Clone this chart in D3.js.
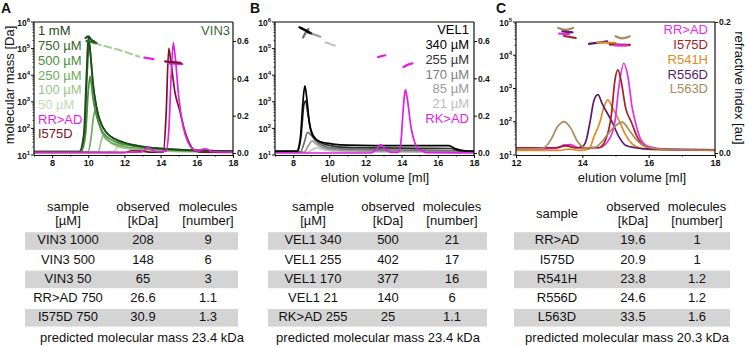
<!DOCTYPE html>
<html>
<head>
<meta charset="utf-8">
<script src="https://cdn.jsdelivr.net/npm/d3@7"></script>
<style>
body { margin: 0; background: #fff; }
svg { font-family: "Liberation Sans", Arial, sans-serif; }
</style>
</head>
<body>
<div id="fig"></div>
<script>
// ---------- A: VIN3 concentration series (RI traces, [ml, RI]) ----------
var vin3_1000 = [[7,0.008],[9.5,0.008],[9.75,0.1],[9.9,0.42],[10.0,0.62],[10.1,0.55],[10.25,0.38],[10.45,0.25],[10.7,0.16],[11.0,0.11],[11.5,0.075],[12.2,0.05],[13,0.035],[14,0.025],[15,0.018],[16.5,0.013],[18,0.01]];
var vin3_750 = [[7,0.008],[9.55,0.008],[9.8,0.12],[9.95,0.45],[10.05,0.6],[10.15,0.5],[10.3,0.34],[10.5,0.22],[10.8,0.14],[11.2,0.09],[11.8,0.06],[12.5,0.042],[13.5,0.028],[15,0.018],[18,0.01]];
var vin3_500 = [[7,0.006],[9.6,0.006],[9.85,0.1],[10.0,0.33],[10.1,0.41],[10.25,0.3],[10.45,0.2],[10.7,0.13],[11.0,0.09],[11.5,0.06],[12.3,0.04],[13.5,0.025],[15,0.015],[18,0.008]];
var vin3_250 = [[7,0.006],[10.0,0.006],[10.15,0.08],[10.3,0.2],[10.4,0.23],[10.55,0.17],[10.8,0.1],[11.2,0.06],[12,0.035],[13.5,0.02],[15,0.012],[18,0.007]];
var vin3_100 = [[7,0.005],[10.55,0.005],[10.7,0.06],[10.85,0.1],[11.0,0.08],[11.3,0.05],[11.8,0.03],[12.8,0.018],[14.5,0.01],[18,0.006]];
var vin3_50 = [[7,0.005],[11.4,0.005],[11.6,0.03],[11.8,0.045],[12.0,0.035],[12.4,0.02],[13.2,0.012],[15,0.007],[18,0.005]];
var vin3_rrad = [[7,0.004],[12.8,0.004],[13.1,0.015],[13.3,0.03],[13.55,0.015],[13.9,0.006],[14.3,0.01],[14.45,0.12],[14.6,0.45],[14.7,0.59],[14.8,0.52],[15.0,0.3],[15.25,0.14],[15.5,0.06],[15.8,0.02],[16.1,0.01],[16.4,0.022],[16.6,0.02],[16.8,0.008],[18,0.004]];
var vin3_i575d = [[7,0.002],[12.0,0.002],[12.4,0.012],[12.9,0.01],[13.5,0.004],[14.15,0.005],[14.3,0.2],[14.45,0.56],[14.55,0.5],[14.8,0.32],[15.05,0.23],[15.3,0.13],[15.6,0.05],[15.9,0.012],[16.3,0.004],[18,0.003]];

// molar mass across the peaks, [ml, Da]
var vin3_mass_1000 = [[9.85,2.5e5],[10.0,2.9e5],[10.15,2.2e5],[10.35,1.8e5]];
var vin3_mass_750 = [[9.9,1.9e5],[10.15,1.8e5],[10.45,1.65e5]];
var vin3_mass_50 = [[10.3,1.6e5],[11.0,1.2e5],[11.8,8.5e4],[12.3,6.5e4],[12.8,5.0e4]];
var vin3_mass_rrad1 = [[13.1,4.6e4],[13.35,4.3e4],[13.6,4.0e4]];
var vin3_mass_i575d = [[14.25,3.3e4],[14.65,3.1e4],[15.1,2.9e4]];
var vin3_mass_rrad2 = [[14.4,2.8e4],[14.8,2.7e4],[15.2,2.6e4]];

// ---------- B: VEL1 concentration series ----------
var vel1_340 = [[7,0.01],[8.2,0.01],[8.4,0.08],[8.55,0.28],[8.65,0.36],[8.75,0.3],[8.9,0.16],[9.1,0.09],[9.5,0.06],[10.2,0.048],[11,0.042],[12.5,0.04],[14,0.04],[15.5,0.04],[16.6,0.04],[17.0,0.022],[17.5,0.012],[18,0.01]];
var vel1_255 = [[7,0.008],[8.25,0.008],[8.45,0.1],[8.6,0.26],[8.7,0.28],[8.8,0.22],[9.0,0.12],[9.3,0.07],[9.8,0.045],[11,0.03],[13,0.027],[15,0.025],[16.7,0.024],[17.2,0.012],[18,0.008]];
var vel1_170 = [[7,0.006],[8.4,0.006],[8.6,0.05],[8.8,0.11],[8.95,0.1],[9.2,0.07],[9.6,0.04],[10.3,0.025],[12,0.018],[15,0.015],[17,0.012],[18,0.006]];
var vel1_85 = [[7,0.005],[8.6,0.005],[8.85,0.04],[9.05,0.065],[9.25,0.05],[9.6,0.03],[10.4,0.016],[12,0.01],[18,0.006]];
var vel1_21 = [[7,0.004],[8.8,0.004],[9.1,0.02],[9.35,0.028],[9.6,0.02],[10.2,0.01],[12,0.006],[18,0.004]];
var vel1_rkad = [[7,0.0],[12.3,0.0],[12.6,0.02],[12.85,0.045],[13.1,0.02],[13.4,0.003],[13.8,0.003],[13.95,0.05],[14.1,0.25],[14.2,0.34],[14.3,0.3],[14.5,0.15],[14.75,0.05],[15.0,0.015],[15.2,0.01],[15.3,0.002],[18,0.0]];

var vel1_mass_340 = [[8.35,6.3e5],[8.6,5.2e5],[8.9,4.0e5]];
var vel1_mass_255 = [[8.45,5.8e5],[8.7,4.8e5],[9.0,3.8e5]];
var vel1_mass_170 = [[8.55,2.6e5],[8.7,4.0e5],[8.85,5.5e5]];
var vel1_mass_85 = [[8.8,4.0e5],[9.2,3.3e5],[9.5,2.8e5]];
var vel1_mass_21 = [[9.8,1.7e5],[10.05,1.5e5],[10.3,1.3e5]];
var vel1_mass_rkad1 = [[12.7,4.8e4],[12.9,5.2e4],[13.1,5.6e4]];
var vel1_mass_rkad2 = [[14.1,2.0e4],[14.35,2.5e4],[14.6,2.8e4]];

// ---------- C: VIN3 point mutants ----------
var mut_rrad = [[12,0.006],[13.2,0.007],[13.45,0.012],[13.65,0.013],[13.9,0.008],[14.5,0.008],[14.8,0.02],[14.98,0.047],[15.1,0.1],[15.25,0.137],[15.38,0.115],[15.5,0.07],[15.6,0.047],[15.75,0.022],[16.0,0.01],[16.5,0.006],[18,0.005]];
var mut_i575d = [[12,0.008],[13.2,0.008],[13.5,0.011],[13.8,0.008],[14.5,0.008],[14.7,0.02],[14.88,0.06],[14.98,0.11],[15.07,0.127],[15.17,0.11],[15.3,0.07],[15.48,0.047],[15.65,0.025],[15.9,0.01],[16.3,0.006],[18,0.005]];
var mut_r541h = [[12,0.004],[13.3,0.004],[13.6,0.006],[13.9,0.004],[14.2,0.006],[14.35,0.025],[14.53,0.047],[14.65,0.07],[14.77,0.081],[14.9,0.07],[15.13,0.047],[15.3,0.028],[15.5,0.014],[15.8,0.007],[16.3,0.005],[18,0.004]];
var mut_r556d = [[12,0.008],[13.2,0.008],[13.5,0.012],[13.8,0.008],[14.0,0.01],[14.12,0.02],[14.23,0.047],[14.35,0.08],[14.47,0.089],[14.6,0.075],[14.9,0.047],[15.1,0.025],[15.3,0.012],[15.6,0.008],[16,0.006],[18,0.005]];
var mut_l563d = [[12,0.006],[12.8,0.007],[13.05,0.02],[13.25,0.04],[13.45,0.048],[13.65,0.038],[13.85,0.018],[14.1,0.008],[14.4,0.009],[14.6,0.018],[14.85,0.034],[15.1,0.045],[15.2,0.047],[15.4,0.036],[15.6,0.022],[15.9,0.01],[16.4,0.006],[17,0.005],[18,0.004]];

var mut_mass_l563d_1 = [[13.27,6.6e4],[13.5,5.8e4],[13.72,6.6e4]];
var mut_mass_r556d_1 = [[13.4,5.2e4],[13.7,4.9e4]];
var mut_mass_rrad_1 = [[13.3,4.5e4],[13.6,4.3e4]];
var mut_mass_i575d_1 = [[13.45,3.8e4],[13.8,3.3e4]];
var mut_mass_r556d_2 = [[14.2,2.2e4],[14.5,2.4e4],[14.75,2.6e4]];
var mut_mass_r541h_2 = [[14.45,2.4e4],[14.7,2.38e4],[15.0,2.35e4]];
var mut_mass_l563d_2 = [[15.0,3.7e4],[15.2,3.2e4],[15.43,3.7e4]];
var mut_mass_i575d_2 = [[14.83,2.1e4],[15.1,2.1e4],[15.43,2.05e4]];
var mut_mass_rrad_2 = [[14.98,1.97e4],[15.15,1.95e4],[15.35,1.95e4]];

// ---------- tables ----------
var tableA_head = [["sample", "[µM]"], ["observed", "[kDa]"], ["molecules", "[number]"]];
var tableA_rows = [["VIN3 1000", "208", "9"], ["VIN3 500", "148", "6"], ["VIN3 50", "65", "3"], ["RR>AD 750", "26.6", "1.1"], ["I575D 750", "30.9", "1.3"]];
var tableA_note = "predicted molecular mass 23.4 kDa";
var tableB_head = [["sample", "[µM]"], ["observed", "[kDa]"], ["molecules", "[number]"]];
var tableB_rows = [["VEL1 340", "500", "21"], ["VEL1 255", "402", "17"], ["VEL1 170", "377", "16"], ["VEL1 21", "140", "6"], ["RK>AD 255", "25", "1.1"]];
var tableB_note = "predicted molecular mass 23.4 kDa";
var tableC_head = [["sample"], ["observed", "[kDa]"], ["molecules", "[number]"]];
var tableC_rows = [["RR>AD", "19.6", "1"], ["I575D", "20.9", "1"], ["R541H", "23.8", "1.2"], ["R556D", "24.6", "1.2"], ["L563D", "33.5", "1.6"]];
var tableC_note = "predicted molecular mass 20.3 kDa";

// colours
var gA = ["#1d4a1a", "#2f6a29", "#4b8e3c", "#6dab5c", "#97c788", "#bfdbb3"];
var magenta = "#e21fe6", wine = "#7a1526";
var grays = ["#000000", "#2b2b2b", "#6e6e6e", "#9a9a9a", "#c4c4c4"];
var cRR = "#e42ee8", cI = "#a3221f", cR541 = "#e28a28", cR556 = "#5b1a6c", cL563 = "#a98a5b";

var W = 749, H = 346;
var PT = 22, PB = 155, RI0 = 153;

var svg = d3.select("#fig").append("svg").attr("width", W).attr("height", H);

function drawPanel(cfg) {
  var x = d3.scaleLinear().domain(cfg.xDomain).range([cfg.x0, cfg.x1]);
  var yM = d3.scaleLog().domain(cfg.mDomain).range([PB, PT]);
  var yR = d3.scaleLinear().domain([0, cfg.riTop]).range([RI0, cfg.riTopY]);
  var g = svg.append("g");

  var cid = "clip" + cfg.id;
  svg.append("clipPath").attr("id", cid).append("rect")
    .attr("x", cfg.x0).attr("y", PT).attr("width", cfg.x1 - cfg.x0).attr("height", PB - PT);
  var plot = g.append("g").attr("clip-path", "url(#" + cid + ")");

  var riLine = d3.line().x(d => x(d[0])).y(d => yR(d[1])).curve(d3.curveMonotoneX);
  plot.selectAll("path.ri").data(cfg.traces).enter().append("path")
    .attr("class", "ri")
    .attr("d", d => riLine(d.data))
    .attr("fill", "none")
    .attr("stroke", d => d.color)
    .attr("stroke-width", 1.7)
    .attr("stroke-linejoin", "round");

  var massLine = d3.line().x(d => x(d[0])).y(d => yM(d[1])).curve(d3.curveCatmullRom);
  plot.selectAll("path.mass").data(cfg.mass).enter().append("path")
    .attr("class", "mass")
    .attr("d", d => massLine(d.data))
    .attr("fill", "none")
    .attr("stroke", d => d.color)
    .attr("stroke-width", 2.2)
    .attr("stroke-linecap", "round")
    .attr("stroke-dasharray", d => d.dash || null);

  // frame
  g.append("line").attr("x1", cfg.x0).attr("x2", cfg.x1).attr("y1", PT).attr("y2", PT)
    .attr("stroke", "#555").attr("stroke-width", 1.5);
  g.append("line").attr("x1", cfg.x0).attr("x2", cfg.x0).attr("y1", PT).attr("y2", PB)
    .attr("stroke", "#111").attr("stroke-width", 1.2);
  g.append("line").attr("x1", cfg.x1).attr("x2", cfg.x1).attr("y1", PT).attr("y2", PB)
    .attr("stroke", "#111").attr("stroke-width", 1.2);

  // bottom axis
  var ax = g.append("g").attr("transform", "translate(0," + PB + ")")
    .call(d3.axisBottom(x).tickValues(cfg.xTicks).tickSize(3).tickSizeOuter(0).tickFormat(d3.format("d")));
  ax.select(".domain").attr("stroke", "#111").attr("stroke-width", 1.2);
  ax.selectAll("text").attr("font-size", 9).attr("font-weight", "bold").attr("fill", "#111").attr("dy", "0.6em");
  g.append("g").attr("transform", "translate(0," + PB + ")")
    .call(d3.axisBottom(x).tickValues(cfg.xMinor).tickSize(1.5).tickFormat(""))
    .select(".domain").remove();

  // left log axis: decades with superscript labels, minor ticks in between
  var decades = yM.ticks().filter(v => Math.abs(Math.log10(v) - Math.round(Math.log10(v))) < 1e-9);
  var minors = yM.ticks().filter(v => decades.indexOf(v) < 0);
  g.selectAll("line.minor").data(minors).enter().append("line")
    .attr("x1", cfg.x0 - 1.5).attr("x2", cfg.x0).attr("y1", d => yM(d)).attr("y2", d => yM(d))
    .attr("stroke", "#111").attr("stroke-width", 0.8);
  g.selectAll("line.major").data(decades).enter().append("line")
    .attr("x1", cfg.x0 - 3).attr("x2", cfg.x0).attr("y1", d => yM(d)).attr("y2", d => yM(d))
    .attr("stroke", "#111").attr("stroke-width", 1);
  var lab = g.selectAll("text.dec").data(decades).enter().append("text")
    .attr("x", cfg.x0 - 4).attr("y", d => yM(d) + 3.5)
    .attr("text-anchor", "end").attr("font-weight", "bold").attr("fill", "#111");
  lab.append("tspan").attr("font-size", 8.5).text("10");
  lab.append("tspan").attr("font-size", 6).attr("dy", -4).text(d => Math.round(Math.log10(d)));

  // right RI axis
  var ar = g.append("g").attr("transform", "translate(" + cfg.x1 + ",0)")
    .call(d3.axisRight(yR).tickValues(cfg.riTicks).tickSize(3).tickSizeOuter(0).tickFormat(d3.format(".1f")));
  ar.select(".domain").remove();
  ar.selectAll("line").attr("stroke", "#111");
  ar.selectAll("text").attr("font-size", 8.5).attr("font-weight", "bold").attr("fill", "#111").attr("x", 4);

  // legend
  g.selectAll("text.leg").data(cfg.legend).enter().append("text")
    .attr("x", cfg.legendX).attr("y", (d, i) => cfg.legendY + i * 14.7)
    .attr("text-anchor", cfg.legendAnchor).attr("dominant-baseline", "middle")
    .attr("font-size", 13).attr("fill", d => d.color).text(d => d.label);

  // panel letter
  g.append("text").attr("x", cfg.letterX).attr("y", 13).attr("font-size", 14)
    .attr("font-weight", "bold").attr("fill", "#111").text(cfg.letter);

  return { x: x };
}

function drawTable(t) {
  var g = svg.append("g").attr("font-size", 13).attr("fill", "#111");
  var rowY0 = 241, rowH = 19.2;
  g.selectAll("rect.band").data(t.rows.filter((r, i) => i % 2 === 0)).enter().append("rect")
    .attr("x", t.left).attr("width", t.right - t.left)
    .attr("y", (d, i) => rowY0 + i * 2 * rowH - 8.8).attr("height", 17.6)
    .attr("fill", "#d4d4d4");
  t.head.forEach(function (h, c) {
    h.forEach(function (s, k) {
      var y = h.length === 1 ? 215 : 208 + k * 14;
      g.append("text").attr("x", t.cols[c]).attr("y", y).attr("text-anchor", "middle")
        .attr("dominant-baseline", "middle").text(s);
    });
  });
  t.rows.forEach(function (r, i) {
    r.forEach(function (s, c) {
      g.append("text").attr("x", t.cols[c]).attr("y", rowY0 + i * rowH)
        .attr("text-anchor", "middle").attr("dominant-baseline", "middle").text(s);
    });
  });
  g.append("text").attr("x", t.noteX).attr("y", 339).attr("text-anchor", "middle")
    .attr("dominant-baseline", "middle").text(t.note);
}

// ---- A ----
drawPanel({
  id: "A", letter: "A", letterX: 1,
  xDomain: [7, 18], x0: 34, x1: 233, xTicks: [8, 10, 12, 14, 16, 18], xMinor: [7, 9, 11, 13, 15, 17],
  mDomain: [10, 1e6], riTop: 0.6, riTopY: 41, riTicks: [0, 0.2, 0.4, 0.6],
  traces: [
    { color: gA[5], data: vin3_50 }, { color: gA[4], data: vin3_100 }, { color: gA[3], data: vin3_250 },
    { color: gA[2], data: vin3_500 }, { color: gA[1], data: vin3_750 }, { color: gA[0], data: vin3_1000 },
    { color: wine, data: vin3_i575d }, { color: magenta, data: vin3_rrad }
  ],
  mass: [
    { color: "#a9cf9c", data: vin3_mass_50, dash: "7,4" },
    { color: gA[1], data: vin3_mass_750 }, { color: gA[0], data: vin3_mass_1000 },
    { color: magenta, data: vin3_mass_rrad1 }, { color: magenta, data: vin3_mass_rrad2 },
    { color: wine, data: vin3_mass_i575d }
  ],
  legend: [
    { label: "1 mM", color: gA[0] }, { label: "750 µM", color: gA[1] }, { label: "500 µM", color: gA[2] },
    { label: "250 µM", color: gA[3] }, { label: "100 µM", color: gA[4] }, { label: "50 µM", color: gA[5] },
    { label: "RR>AD", color: magenta }, { label: "I575D", color: wine }
  ],
  legendX: 38, legendY: 32, legendAnchor: "start"
});
svg.append("text").attr("x", 230).attr("y", 32).attr("text-anchor", "end").attr("dominant-baseline", "middle")
  .attr("font-size", 13).attr("fill", "#3b6a36").text("VIN3");
svg.append("text").attr("transform", "translate(11,85) rotate(-90)").attr("text-anchor", "middle")
  .attr("dominant-baseline", "middle").attr("font-size", 13).attr("fill", "#111").text("molecular mass [Da]");

// ---- B ----
drawPanel({
  id: "B", letter: "B", letterX: 250,
  xDomain: [7, 18], x0: 275, x1: 474, xTicks: [8, 10, 12, 14, 16, 18], xMinor: [7, 9, 11, 13, 15, 17],
  mDomain: [10, 1e6], riTop: 0.6, riTopY: 41, riTicks: [0, 0.2, 0.4, 0.6],
  traces: [
    { color: grays[4], data: vel1_21 }, { color: grays[3], data: vel1_85 }, { color: grays[2], data: vel1_170 },
    { color: grays[1], data: vel1_255 }, { color: grays[0], data: vel1_340 }, { color: magenta, data: vel1_rkad }
  ],
  mass: [
    { color: grays[4], data: vel1_mass_21 }, { color: grays[3], data: vel1_mass_85 },
    { color: grays[2], data: vel1_mass_170 }, { color: grays[1], data: vel1_mass_255 },
    { color: grays[0], data: vel1_mass_340 },
    { color: magenta, data: vel1_mass_rkad1 }, { color: magenta, data: vel1_mass_rkad2 }
  ],
  legend: [
    { label: "VEL1", color: "#000" }, { label: "340 µM", color: "#000" }, { label: "255 µM", color: "#333" },
    { label: "170 µM", color: "#808080" }, { label: "85 µM", color: "#9a9a9a" }, { label: "21 µM", color: "#bdbdbd" },
    { label: "RK>AD", color: magenta }
  ],
  legendX: 469, legendY: 31, legendAnchor: "end"
});
svg.append("text").attr("x", 375).attr("y", 179).attr("text-anchor", "middle").attr("dominant-baseline", "middle")
  .attr("font-size", 13).attr("fill", "#111").text("elution volume [ml]");

// ---- C ----
drawPanel({
  id: "C", letter: "C", letterX: 496,
  xDomain: [12, 18], x0: 516, x1: 715, xTicks: [12, 14, 16, 18], xMinor: [13, 15, 17],
  mDomain: [10, 1e5], riTop: 0.2, riTopY: 22, riTicks: [0, 0.2],
  traces: [
    { color: cR541, data: mut_r541h }, { color: cR556, data: mut_r556d }, { color: cRR, data: mut_rrad },
    { color: cI, data: mut_i575d }, { color: cL563, data: mut_l563d }
  ],
  mass: [
    { color: cL563, data: mut_mass_l563d_1 }, { color: cR556, data: mut_mass_r556d_1 },
    { color: cRR, data: mut_mass_rrad_1 }, { color: cI, data: mut_mass_i575d_1 },
    { color: cR556, data: mut_mass_r556d_2 }, { color: cR541, data: mut_mass_r541h_2 },
    { color: cL563, data: mut_mass_l563d_2 }, { color: cI, data: mut_mass_i575d_2 },
    { color: cRR, data: mut_mass_rrad_2 }
  ],
  legend: [
    { label: "RR>AD", color: cRR }, { label: "I575D", color: cI }, { label: "R541H", color: cR541 },
    { label: "R556D", color: cR556 }, { label: "L563D", color: cL563 }
  ],
  legendX: 708, legendY: 31, legendAnchor: "end"
});
svg.append("text").attr("x", 632).attr("y", 179).attr("text-anchor", "middle").attr("dominant-baseline", "middle")
  .attr("font-size", 13).attr("fill", "#111").text("elution volume [ml]");
svg.append("text").attr("transform", "translate(738,88) rotate(90)").attr("text-anchor", "middle")
  .attr("dominant-baseline", "middle").attr("font-size", 13).attr("fill", "#111").text("refractive index [au]");

// ---- tables ----
drawTable({ head: tableA_head, rows: tableA_rows, note: tableA_note, cols: [68, 143, 208], left: 25, right: 238, noteX: 142 });
drawTable({ head: tableB_head, rows: tableB_rows, note: tableB_note, cols: [313, 388, 452], left: 268, right: 487, noteX: 378 });
drawTable({ head: tableC_head, rows: tableC_rows, note: tableC_note, cols: [557, 633, 697], left: 514, right: 730, noteX: 627 });
</script>
</body>
</html>
